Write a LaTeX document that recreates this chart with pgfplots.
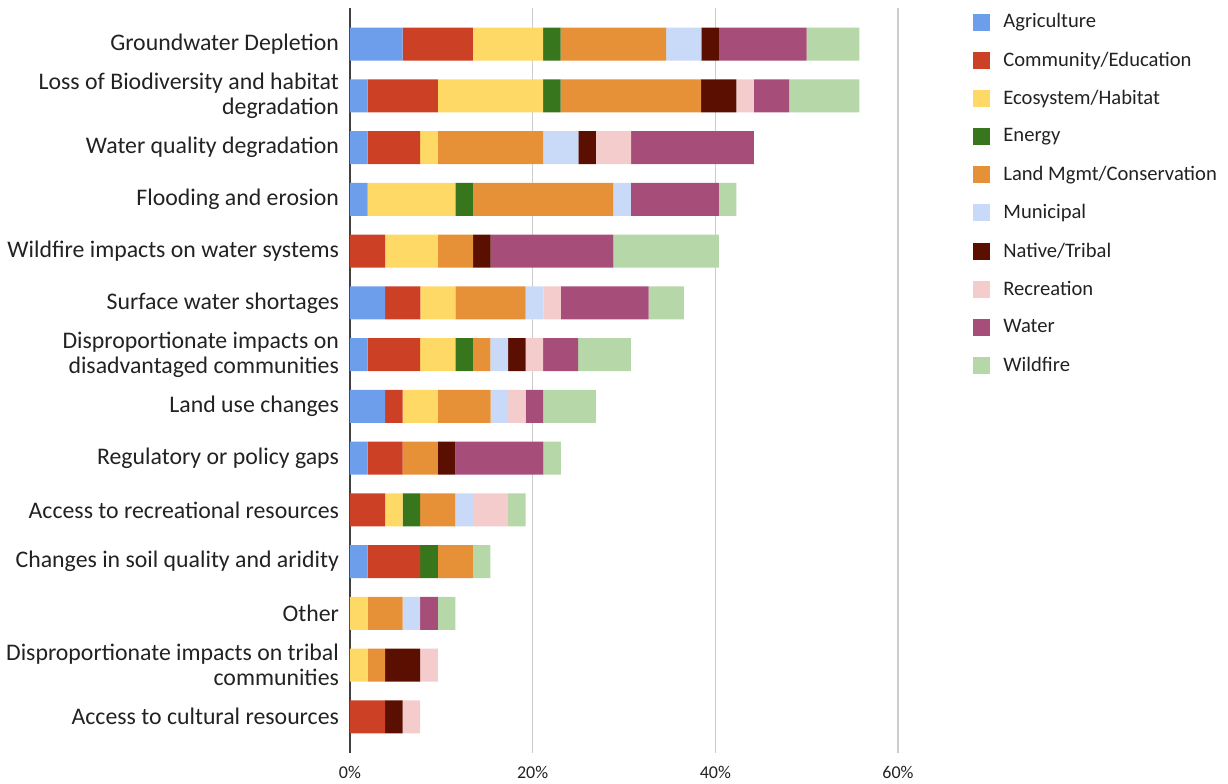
\documentclass[border=0pt]{standalone}
\usepackage{fontspec}
\setmainfont{Carlito}
\usepackage{pgfplots}
\usepackage{pgfplotstable}
\pgfplotsset{compat=1.18}

\definecolor{cAgr}{HTML}{6D9EEB}
\definecolor{cCom}{HTML}{CC4125}
\definecolor{cEco}{HTML}{FFD966}
\definecolor{cEne}{HTML}{38761D}
\definecolor{cLan}{HTML}{E69138}
\definecolor{cMun}{HTML}{C9DAF8}
\definecolor{cNat}{HTML}{5B0F00}
\definecolor{cRec}{HTML}{F4CCCC}
\definecolor{cWat}{HTML}{A64D79}
\definecolor{cWil}{HTML}{B6D7A8}
\definecolor{txt}{HTML}{222222}

% shares in percent, one row per issue (top to bottom)
\pgfplotstableread{
y  agr   com   eco   ene   lan   mun   nat   rec   wat   wil
0  5.77  7.69  7.69  1.92  11.54 3.85  1.92  0     9.62  5.77
1  1.92  7.69  11.54 1.92  15.38 0     3.85  1.92  3.85  7.69
2  1.92  5.77  1.92  0     11.54 3.85  1.92  3.85  13.46 0
3  1.92  0     9.62  1.92  15.38 1.92  0     0     9.62  1.92
4  0     3.85  5.77  0     3.85  0     1.92  0     13.46 11.54
5  3.85  3.85  3.85  0     7.69  1.92  0     1.92  9.62  3.85
6  1.92  5.77  3.85  1.92  1.92  1.92  1.92  1.92  3.85  5.77
7  3.85  1.92  3.85  0     5.77  1.92  0     1.92  1.92  5.77
8  1.92  3.85  0     0     3.85  0     1.92  0     9.62  1.92
9  0     3.85  1.92  1.92  3.85  1.92  0     3.85  0     1.92
10 1.92  5.77  0     1.92  3.85  0     0     0     0     1.92
11 0     0     1.92  0     3.85  1.92  0     0     1.92  1.92
12 0     0     1.92  0     1.92  0     3.85  1.92  0     0
13 0     3.85  0     0     0     0     1.92  1.92  0     0
}\data

\begin{document}
\begin{tikzpicture}
\path[use as bounding box] (-175pt,-15pt) rectangle (439pt,376.5pt);
\begin{axis}[
    at={(0,0)}, anchor=south west,
    scale only axis,
    width=274pt, height=372.5pt,
    xbar stacked,
    bar width=16.5pt,
    xmin=0, xmax=60,
    ymin=-0.7, ymax=13.7,
    y dir=reverse,
    axis line style={draw=none},
    major tick length=0pt,
    xtick={20,40,60},
    xticklabels={20\%,40\%,60\%},
    extra x ticks={0},
    extra x tick labels={0\%},
    extra x tick style={grid style={draw=black!75, line width=1pt}},
    xmajorgrids,
    grid style={draw=black!20, line width=0.8pt},
    xticklabel style={font=\fontsize{9}{10}\selectfont, text=txt, yshift=-3pt},
    ytick={0,...,13},
    yticklabels={
      Groundwater Depletion,
      {Loss of Biodiversity and habitat\\degradation},
      Water quality degradation,
      Flooding and erosion,
      Wildfire impacts on water systems,
      Surface water shortages,
      {Disproportionate impacts on\\disadvantaged communities},
      Land use changes,
      Regulatory or policy gaps,
      Access to recreational resources,
      Changes in soil quality and aridity,
      Other,
      {Disproportionate impacts on tribal\\communities},
      Access to cultural resources},
    yticklabel style={font=\fontsize{11.9}{12.4}\selectfont, text=txt, align=right, xshift=-2pt},
    every axis plot/.append style={draw=none},
    legend cell align=left,
    legend style={at={(1,1)}, anchor=north west, xshift=37.5pt, yshift=-0.5pt,
      draw=none, fill=none, font=\fontsize{10.3}{12}\selectfont, text=txt,
      row sep=6.55pt, inner sep=0pt,
      /tikz/every odd column/.append style={column sep=4.5pt}},
    legend image code/.code={\fill[#1] (0pt,-4.25pt) rectangle (8.5pt,4.25pt);},
]
\addplot[fill=cAgr] table[x=agr, y=y] {\data};
\addplot[fill=cCom] table[x=com, y=y] {\data};
\addplot[fill=cEco] table[x=eco, y=y] {\data};
\addplot[fill=cEne] table[x=ene, y=y] {\data};
\addplot[fill=cLan] table[x=lan, y=y] {\data};
\addplot[fill=cMun] table[x=mun, y=y] {\data};
\addplot[fill=cNat] table[x=nat, y=y] {\data};
\addplot[fill=cRec] table[x=rec, y=y] {\data};
\addplot[fill=cWat] table[x=wat, y=y] {\data};
\addplot[fill=cWil] table[x=wil, y=y] {\data};
\legend{Agriculture, Community/Education, Ecosystem/Habitat, Energy,
  Land Mgmt/Conservation, Municipal, Native/Tribal, Recreation, Water, Wildfire}
\end{axis}
\end{tikzpicture}
\end{document}
